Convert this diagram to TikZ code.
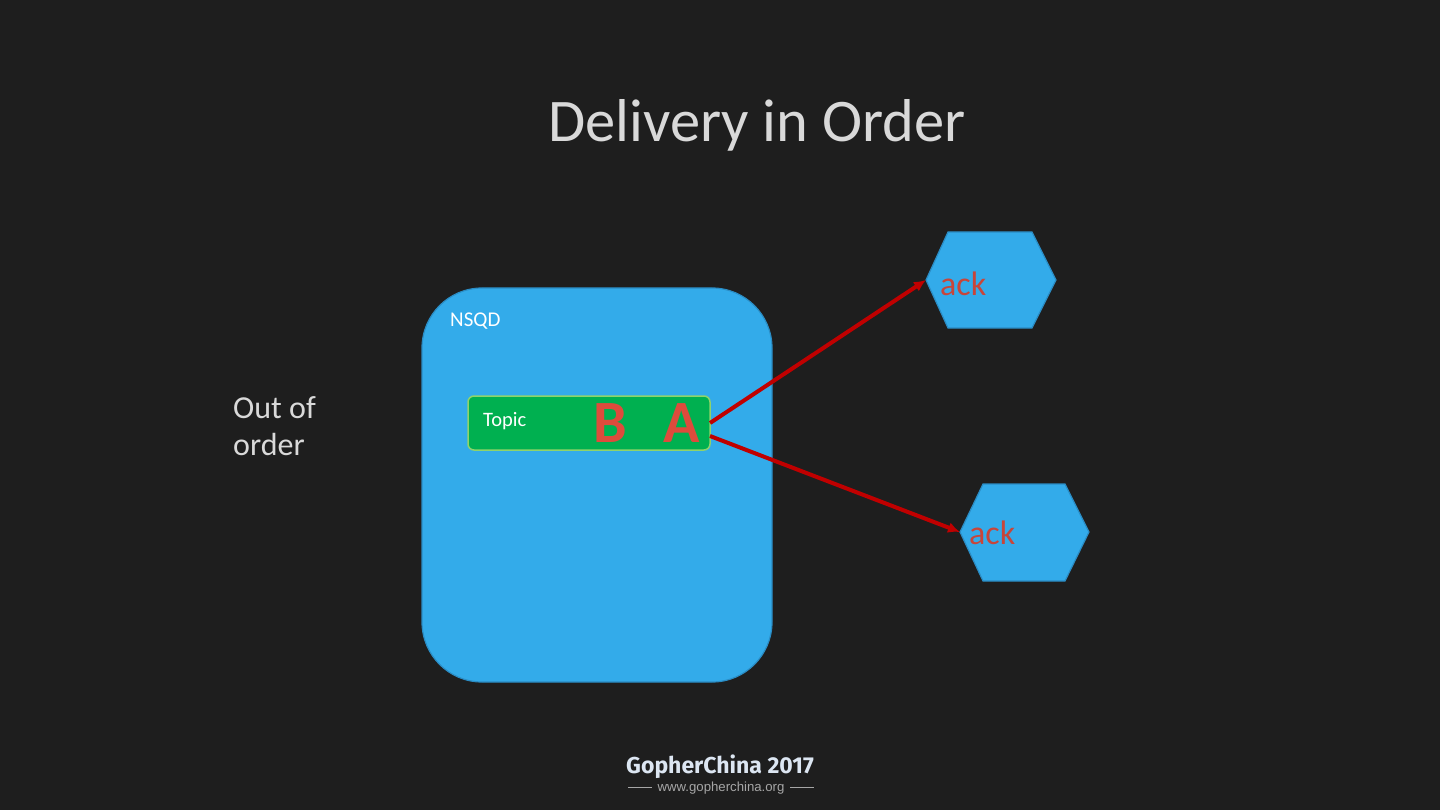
\documentclass[tikz,border=0pt]{standalone}
\usepackage{fontspec}
\setmainfont{Carlito}
\newfontfamily\footfont{Fira Sans}
\newfontfamily\urlfont{Liberation Sans}
\usetikzlibrary{arrows.meta}
\definecolor{bg}{HTML}{1E1E1E}
\definecolor{skyfill}{HTML}{33ABEA}
\definecolor{skyline}{HTML}{2A8CC4}
\definecolor{topicfill}{HTML}{00B050}
\definecolor{topicline}{HTML}{8FD36A}
\definecolor{letterred}{HTML}{DE4B3C}
\definecolor{ackred}{HTML}{C8453A}
\definecolor{arrowred}{HTML}{C00000}
\definecolor{lighttext}{HTML}{D9D9D9}
\definecolor{foottext}{HTML}{DCE6F2}
\definecolor{urlgray}{HTML}{A6A6A6}
\begin{document}
\begin{tikzpicture}[x=1pt,y=-1pt,
  hexbox/.style={fill=skyfill,draw=skyline,line width=1.2pt},
  msgarrow/.style={draw=arrowred,line width=4pt,-{Latex[length=12pt,width=11pt]}},
  bigletter/.style={text=letterred,font=\bfseries\fontsize{60}{60}\selectfont,inner sep=0pt},
  acklabel/.style={text=ackred,font=\fontsize{34}{34}\selectfont,inner sep=0pt,anchor=west}]
\fill[bg] (0,0) rectangle (1440,810);
\useasboundingbox (0,0) rectangle (1440,810);
% title
\node[text=lighttext,font=\fontsize{60.5}{60.5}\selectfont] (title) at (757,125) {Delivery in Order};
% NSQD box
\draw[fill=skyfill,draw=skyline,line width=1.2pt,rounded corners=60pt] (422,288) rectangle (772,682);
\node[anchor=west,text=white,font=\fontsize{21}{21}\selectfont,inner sep=0pt] (nsqd) at (450,321) {NSQD};
% topic box
\node[draw=topicline,fill=topicfill,line width=1.5pt,rounded corners=6pt,minimum width=242pt,minimum height=54pt,inner sep=0pt] (topic) at (589,423) {};
\node[anchor=west,text=white,font=\fontsize{20.5}{20.5}\selectfont,inner sep=0pt] (topiclabel) at (483,421) {Topic};
\node[bigletter] (B) at (610,423) {B};
\node[bigletter] (A) at (682,423) {A};
% hexagons
\draw[hexbox] (926,280) -- (948,232) -- (1032,232) -- (1056,280) -- (1032,328) -- (948,328) -- cycle;
\coordinate (hexone) at (926,280);
\node[acklabel] (ackone) at (940,284) {ack};
\draw[hexbox] (960,532) -- (983,484) -- (1065,484) -- (1089,532) -- (1065,581) -- (983,581) -- cycle;
\coordinate (hextwo) at (960,532);
\node[acklabel] (acktwo) at (969,533) {ack};
% arrows
\coordinate (srcone) at (710,423);
\coordinate (srctwo) at (710,436);
\draw[msgarrow] (srcone) -- (hexone);
\draw[msgarrow] (srctwo) -- (hextwo);
% side label
\node[anchor=west,text=lighttext,font=\fontsize{32}{37}\selectfont,align=left,inner sep=0pt] (ooo) at (233,426) {Out of\\order};
% footer
\node[text=foottext,font=\footfont\bfseries\fontsize{23}{23}\selectfont,inner sep=0pt] (gc) at (720,767) {GopherChina 2017};
\node[text=urlgray,font=\urlfont\fontsize{13.2}{13.2}\selectfont,inner sep=0pt] (url) at (721,788) {www.gopherchina.org};
\coordinate (lineLa) at (628,787);
\coordinate (lineLb) at (652,787);
\coordinate (lineRa) at (790,787);
\coordinate (lineRb) at (814,787);
\draw[urlgray,line width=0.9pt] (lineLa) -- (lineLb);
\draw[urlgray,line width=0.9pt] (lineRa) -- (lineRb);
\end{tikzpicture}
\end{document}
